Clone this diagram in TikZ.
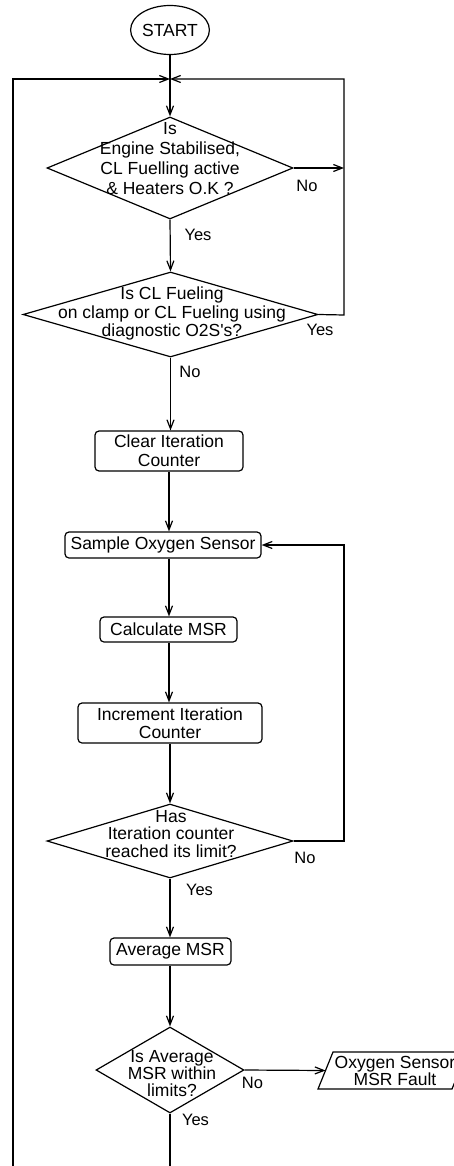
\documentclass[tikz,border=0pt]{standalone}
\usepackage{fontspec}
\setmainfont{Liberation Sans}
\usetikzlibrary{shapes.geometric,arrows.meta}
\begin{document}
\begin{tikzpicture}[x=1pt,y=-1pt,
  line width=1.2pt,
  txt/.style={font=\fontsize{17.5}{19}\selectfont, inner sep=0pt, align=center},
  lbl/.style={font=\fontsize{16.5}{18}\selectfont, inner sep=0pt},
  proc/.style={draw, rounded corners=4pt, inner sep=0pt, align=center,
    font=\fontsize{17.5}{19}\selectfont},
  dec/.style={draw, diamond, inner sep=0pt},
  term/.style={draw, ellipse, inner sep=0pt, font=\fontsize{17.5}{19}\selectfont},
  arr/.style={-{Straight Barb[length=9pt,width=7pt]}, line width=1.2pt},
]
\useasboundingbox (0,0) rectangle (453,1166);

% terminal and decision/process blocks
\node[term, minimum width=65, minimum height=49] (start) at (170,30) {START};
\coordinate (J) at (170,79);

\node[dec, minimum width=246, minimum height=102] (d1) at (170,168) {};
\node[txt, font=\fontsize{17.5}{20}\selectfont] (t1) at (170,159)
  {Is\\Engine Stabilised,\\CL Fuelling active\\\& Heaters O.K ?};

\node[dec, minimum width=295, minimum height=85] (d2) at (170.5,314.5) {};
\node[txt, font=\fontsize{17.5}{18.5}\selectfont] (t2) at (172,313.5)
  {Is CL Fueling\\on clamp or CL Fueling using\\diagnostic O2S\textquotesingle s?};

\node[proc, minimum width=148, minimum height=40] (b1) at (169,451)
  {Clear Iteration\\Counter};
\node[proc, minimum width=196, minimum height=26] (b2) at (163,545)
  {Sample Oxygen Sensor};
\node[proc, minimum width=137, minimum height=25] (b3) at (168.5,629.5)
  {Calculate MSR};
\node[proc, minimum width=184, minimum height=40,
  font=\fontsize{17.5}{17.5}\selectfont] (b4) at (170,723)
  {Increment Iteration\\Counter};

\node[dec, minimum width=246, minimum height=74] (d3) at (170,841) {};
\node[txt, font=\fontsize{17.5}{17.5}\selectfont] (t3) at (171,834)
  {Has\\Iteration counter\\reached its limit?};

\node[proc, minimum width=121, minimum height=27] (b5) at (170.5,951.5)
  {Average MSR};

\node[dec, minimum width=148, minimum height=86] (d4) at (170,1070) {};
\node[txt, font=\fontsize{17.5}{17}\selectfont] (t4) at (172,1074)
  {Is Average\\MSR within\\limits?};

% output block (parallelogram running off the right edge)
\coordinate (pA) at (318,1089);
\coordinate (pB) at (333,1052);
\coordinate (pC) at (467,1052);
\coordinate (pD) at (452,1089);
\coordinate (pin) at (325.5,1070.5);
\draw (pA) -- (pB) -- (pC) -- (pD) -- cycle;
\node[txt, font=\fontsize{17.5}{17}\selectfont] (fault) at (395,1070.5)
  {Oxygen Sensor\\MSR Fault};

% loop frame corners
\coordinate (tl) at (13,79);
\coordinate (tr) at (344,79);
\coordinate (bl) at (13,1166);
\coordinate (c1) at (344,168);
\coordinate (c2) at (344,315);
\coordinate (c3) at (344,545);
\coordinate (c4) at (344,841);
\coordinate (bot) at (170,1166);

% connectors
\draw (start) -- (J);
\draw[arr] (J) -- (d1.north);
\draw[arr] (bl) -- (tl) -- (J);
\draw[arr] (d2.east) -- (c2) -- (tr) -- (J);
\draw[arr] (d1.east) -- (c1);
\draw[arr] (d1.south) -- (d2.north);
\draw[arr] (d2.south) -- (d2.south |- b1.north);
\draw[arr] (b1.south) -- (b1.south |- b2.north);
\draw[arr] (b1.south |- b2.south) -- (b1.south |- b3.north);
\draw[arr] (b1.south |- b3.south) -- (b1.south |- b4.north);
\draw[arr] (b4.south) -- (d3.north);
\draw[arr] (d3.east) -- (c4) -- (c3) -- (b2.east);
\draw[arr] (d3.south) -- (d3.south |- b5.north);
\draw[arr] (d3.south |- b5.south) -- (d4.north);
\draw[arr] (d4.east) -- (pin);
\draw (d4.south) -- (bot);

% branch labels
\node[lbl] (n1) at (307,186) {No};
\node[lbl] (y1) at (198,235) {Yes};
\node[lbl] (y2) at (320,330) {Yes};
\node[lbl] (n2) at (190,372) {No};
\node[lbl] (n3) at (305,858) {No};
\node[lbl] (y3) at (199.5,890) {Yes};
\node[lbl] (n4) at (252.5,1083) {No};
\node[lbl] (y4) at (195.5,1120) {Yes};
\end{tikzpicture}
\end{document}
